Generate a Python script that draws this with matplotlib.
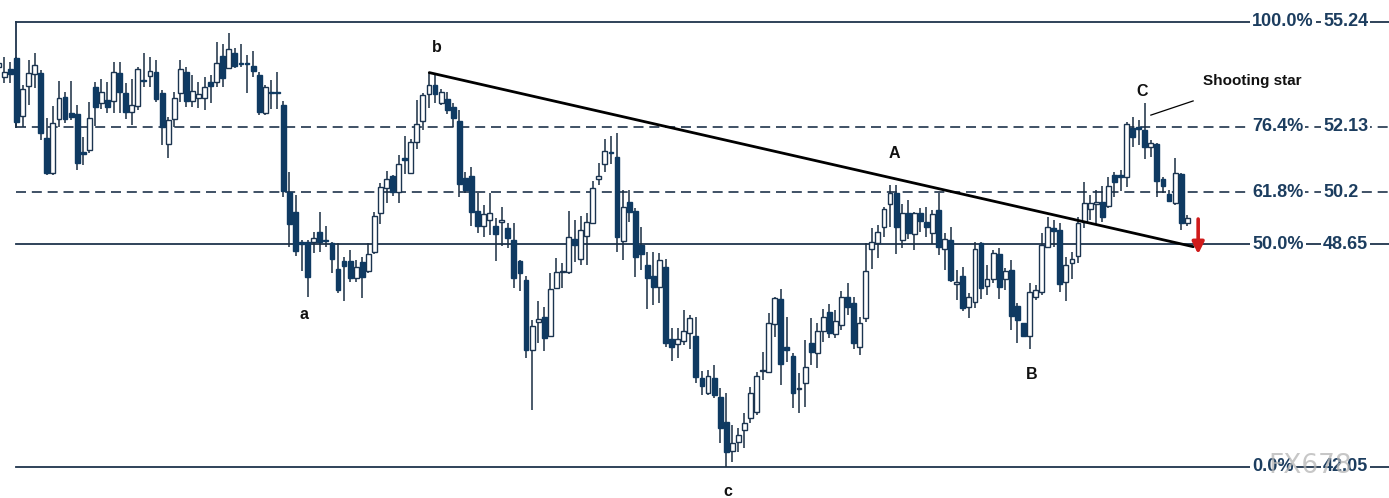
import matplotlib
matplotlib.use("Agg")
import matplotlib.pyplot as plt
import numpy as np

# ---------------- data (prices) ----------------
opens = [53.91,53.61,53.85,54.17,52.45,53.34,53.70,53.73,51.80,50.76,52.36,53.02,52.54,52.51,51.36,51.45,53.31,52.84,52.93,52.90,
         53.73,53.14,52.57,52.75,53.52,53.64,53.76,53.14,51.62,52.36,53.14,53.76,52.90,52.99,52.99,53.46,53.46,54.23,53.88,54.32,
         54.02,54.02,53.94,53.67,52.54,53.16,53.16,52.78,50.20,49.61,48.72,48.72,48.72,49.02,48.76,48.69,47.92,48.16,48.16,47.65,
         48.13,47.86,48.42,49.58,50.32,50.68,50.20,51.18,50.76,51.68,52.31,53.11,53.37,52.84,52.96,52.72,52.31,50.62,50.68,49.64,
         49.19,49.37,49.19,49.31,49.13,48.78,48.16,47.59,45.52,46.35,46.50,45.93,47.36,47.83,47.83,48.81,48.21,48.90,49.28,50.59,
         51.03,51.39,51.24,48.75,49.91,49.64,48.63,48.04,47.71,47.39,47.98,45.84,45.69,45.78,46.02,45.93,44.69,44.24,44.69,44.12,
         43.38,42.52,42.79,43.15,43.50,43.68,44.90,44.87,46.29,47.03,45.61,45.34,44.36,44.54,45.72,45.43,46.08,46.64,45.99,46.26,
         47.09,46.91,45.61,46.47,48.51,48.69,49.16,49.85,50.17,48.78,49.58,48.96,49.58,49.31,48.99,49.67,48.51,48.78,47.47,47.71,
         46.79,46.94,48.69,47.42,47.62,48.36,47.62,47.89,46.82,46.32,45.93,47.09,47.24,48.57,49.13,49.07,47.53,48.10,48.30,49.31,
         49.70,49.85,49.91,49.79,50.71,50.71,50.65,52.10,52.13,52.04,51.53,51.62,50.59,50.14,49.88,50.73,49.28]
closes = [54.02,53.76,53.70,52.28,53.25,53.73,53.97,51.95,50.76,52.25,52.99,52.36,52.42,51.06,51.34,52.39,52.72,53.16,52.72,53.76,
          53.16,52.57,52.78,53.85,53.50,53.79,52.96,52.13,52.34,52.99,53.85,52.90,53.19,53.11,53.31,53.34,54.02,53.58,54.44,53.94,
          54.00,54.00,53.79,52.57,53.31,53.14,53.14,50.23,49.25,48.45,48.66,47.68,48.84,48.72,48.74,48.21,47.30,48.01,47.65,47.98,
          47.68,48.36,49.49,50.35,50.59,50.20,51.03,51.16,51.68,52.22,53.08,53.37,53.11,53.16,52.63,52.39,50.44,50.26,49.61,49.19,
          49.55,49.58,48.96,49.37,48.84,47.65,47.80,45.52,46.23,46.44,45.87,47.33,47.83,47.85,48.87,48.63,49.07,49.31,50.32,50.68,
          51.42,51.36,48.87,49.76,49.61,48.27,48.36,47.65,47.39,48.19,45.72,45.61,45.84,46.08,46.47,44.72,44.45,44.75,44.18,43.21,
          42.49,42.76,43.00,43.35,44.24,44.75,44.92,46.32,47.06,45.10,45.52,44.24,44.38,45.01,45.46,46.08,46.50,46.02,46.38,47.09,
          46.79,45.72,46.32,47.86,48.72,49.02,49.70,50.17,49.16,49.58,48.99,49.58,49.34,49.16,49.55,48.57,48.81,47.59,47.53,46.76,
          47.09,48.51,47.36,47.62,48.39,47.39,47.86,46.53,46.41,45.93,47.24,47.30,48.63,49.16,49.04,47.47,48.04,48.21,49.28,49.88,
          49.88,49.91,49.46,50.38,50.50,50.65,52.22,51.83,52.07,51.53,51.65,50.53,50.38,49.93,50.76,49.28,49.43]
highs = [54.17,54.20,54.05,54.20,53.37,54.11,54.32,53.82,52.39,52.75,53.49,53.16,53.49,52.78,51.83,52.87,53.46,53.55,53.46,54.05,
         54.05,53.43,53.55,53.91,54.32,54.20,54.11,53.22,52.42,53.16,54.11,53.91,53.67,53.46,53.61,53.67,54.65,54.59,54.91,54.47,
         54.59,54.26,54.38,53.76,53.37,53.52,53.76,52.90,50.79,50.11,48.78,48.78,49.02,49.61,49.19,48.72,48.69,48.27,48.48,48.19,
         48.27,48.69,49.61,50.47,50.82,50.71,51.30,51.86,51.77,52.93,53.14,53.73,53.70,53.25,53.16,52.84,52.63,50.79,50.94,50.17,
         49.82,50.17,49.43,49.76,49.28,49.28,48.19,47.71,46.41,46.97,46.79,47.80,48.24,48.10,49.64,49.37,49.49,49.58,50.53,51.06,
         51.77,51.86,51.95,50.26,50.26,49.73,49.16,48.42,48.42,48.39,48.21,46.17,46.17,46.70,46.56,46.50,44.90,44.93,45.07,44.39,
         44.24,43.29,43.21,43.65,44.42,44.87,45.46,46.61,47.09,47.33,46.50,45.43,44.84,45.81,46.47,46.32,46.73,46.88,46.70,47.27,
         47.50,47.09,46.50,48.69,49.13,49.22,49.76,50.41,50.41,49.85,49.96,49.61,49.73,49.76,49.67,50.17,48.99,49.16,47.89,47.98,
         47.21,48.72,48.72,48.04,48.48,48.54,47.95,48.19,46.91,46.32,47.50,47.44,48.99,49.46,49.37,49.28,48.27,48.42,49.46,50.50,
         50.11,50.26,50.38,50.65,50.79,50.85,52.28,52.42,52.34,52.84,51.74,51.65,50.65,50.26,51.21,50.76,49.52]
lows = [53.67,53.43,53.43,52.10,52.13,52.78,53.28,51.74,50.71,50.71,52.13,52.25,52.34,50.85,51.00,51.36,52.16,52.66,52.54,52.54,
        52.54,52.36,52.19,52.63,53.31,53.31,52.87,51.59,51.21,52.13,52.87,52.72,52.72,52.69,52.63,52.84,53.31,53.31,53.85,53.88,
        53.91,53.14,53.61,52.48,52.48,52.66,52.66,50.05,48.57,48.30,47.86,47.09,48.39,48.42,48.57,47.80,47.21,46.97,47.53,47.53,
        47.06,47.80,48.36,49.25,49.88,50.08,49.88,50.73,50.76,51.48,52.04,52.69,52.84,52.78,52.51,52.13,50.05,50.17,49.19,48.99,
        48.87,48.93,48.16,48.60,48.54,47.36,47.27,45.28,43.74,45.72,45.49,46.02,47.33,47.36,47.77,48.13,48.04,48.04,49.25,50.41,
        50.79,51.03,48.42,48.19,49.31,47.68,47.89,46.73,46.85,46.91,45.61,45.19,45.28,45.67,45.55,44.54,44.18,44.18,44.09,42.76,
        42.05,42.20,42.49,42.61,43.35,43.59,44.63,44.84,45.90,44.48,45.16,43.80,43.65,43.83,45.07,44.98,45.76,45.87,45.87,46.11,
        46.56,45.55,45.37,46.35,47.92,48.24,48.87,49.16,48.36,48.54,48.81,48.48,49.02,48.87,48.66,48.33,47.89,47.53,47.00,46.67,
        46.47,46.76,47.03,47.15,47.50,47.03,47.30,46.11,45.72,45.90,45.55,47.00,47.15,48.54,48.57,47.24,46.97,47.62,48.10,49.13,
        49.37,49.25,49.31,49.73,50.05,50.23,50.35,51.53,51.59,51.18,51.24,50.05,50.17,49.91,49.82,49.07,49.19]

fib_pct = ["100.0%", "76.4%", "61.8%", "50.0%", "0.0%"]
fib_val = [55.24, 52.13, 50.2, 48.65, 42.05]
fib_txt = ["55.24", "52.13", "50.2", "48.65", "42.05"]
fib_dashed = [False, True, True, False, False]

wave_labels = ["b", "a", "c", "A", "B", "C"]
wave_x = [72.3, 50.4, 120.3, 147.7, 170.4, 188.5]
wave_y = [54.47, 46.56, 41.31, 51.33, 44.78, 53.19]

trend_x = [71.05, 197.0]
trend_y = [53.74, 48.58]

# ---------------- figure ----------------
W, H, DPI = 1389, 498, 100
fig = plt.figure(figsize=(W / DPI, H / DPI), dpi=DPI)
ax = fig.add_axes([0, 0, 1, 1])
ax.set_xlim(0.28, 229.26)
ax.set_ylim(41.131, 55.892)
ax.axis("off")

navy = "#0f3a62"
edge = "#1b3450"
linec = "#1f344c"
textc = "#1c3d5f"

n = len(opens)
idx = np.arange(n)
o = np.array(opens); c = np.array(closes); h = np.array(highs); l = np.array(lows)
up = c >= o

# fib lines
x0 = 2.92
x1 = 229.26
for v, d in zip(fib_val, fib_dashed):
    if d:
        ax.plot([x0, x1], [v, v], color=linec, lw=1.2, ls=(0, (6, 3.5)), zorder=1)
    else:
        ax.plot([x0, x1], [v, v], color=linec, lw=1.3, zorder=1)
ax.plot([x0, x0], [fib_val[1], fib_val[0]], color=linec, lw=1.3, zorder=1)

# candles
ax.vlines(idx, l, h, color="#1a2d42", lw=1.1, zorder=2)
bottoms = np.minimum(o, c)
heights = np.maximum(np.abs(c - o), 0.035)
ax.bar(idx[up], heights[up], bottom=bottoms[up], width=0.8, facecolor="white",
       edgecolor=edge, linewidth=1.0, zorder=3)
ax.bar(idx[~up], heights[~up], bottom=bottoms[~up], width=0.8, facecolor=navy,
       edgecolor=navy, linewidth=1.0, zorder=3)

# trend line
ax.plot(trend_x, trend_y, color="black", lw=2.0, solid_capstyle="round", zorder=4)

# fib labels
for p, t, v in zip(fib_pct, fib_txt, fib_val):
    ax.text(206.68, v, p, ha="left", va="center", fontsize=13, fontweight="bold",
            family="Liberation Sans", color=textc, zorder=5,
            bbox=dict(boxstyle="square,pad=0.12", fc="white", ec="none"))
    ax.text(218.38, v, t, ha="left", va="center", fontsize=13, fontweight="bold",
            family="Liberation Sans", color=textc, zorder=5,
            bbox=dict(boxstyle="square,pad=0.12", fc="white", ec="none"))

# wave labels
for s, x, y in zip(wave_labels, wave_x, wave_y):
    ax.text(x, y, s, ha="center", va="center", fontsize=11.5, fontweight="bold",
            family="Liberation Sans", color="#111111", zorder=5)

ax.text(198.6, 53.49, "Shooting star", ha="left", va="center", fontsize=11,
        fontweight="bold", family="Liberation Sans", color="#111111", zorder=5)
ax.plot([190.0, 196.97], [52.48, 52.90], color="black", lw=0.9, zorder=4)

# red arrow
ax.annotate("", xy=(197.8, 48.36), xytext=(197.8, 49.40),
            arrowprops=dict(arrowstyle="-|>,head_length=0.7,head_width=0.35",
                            color="#cf1b1b", lw=2.6, shrinkA=0, shrinkB=0),
            zorder=6)

# watermark
ax.text(216.2, 42.08, "FX678", ha="center", va="center", fontsize=19,
        family="DejaVu Sans", color="#b5b5b5", alpha=0.75, zorder=7)

fig.savefig("out.png", dpi=DPI)
